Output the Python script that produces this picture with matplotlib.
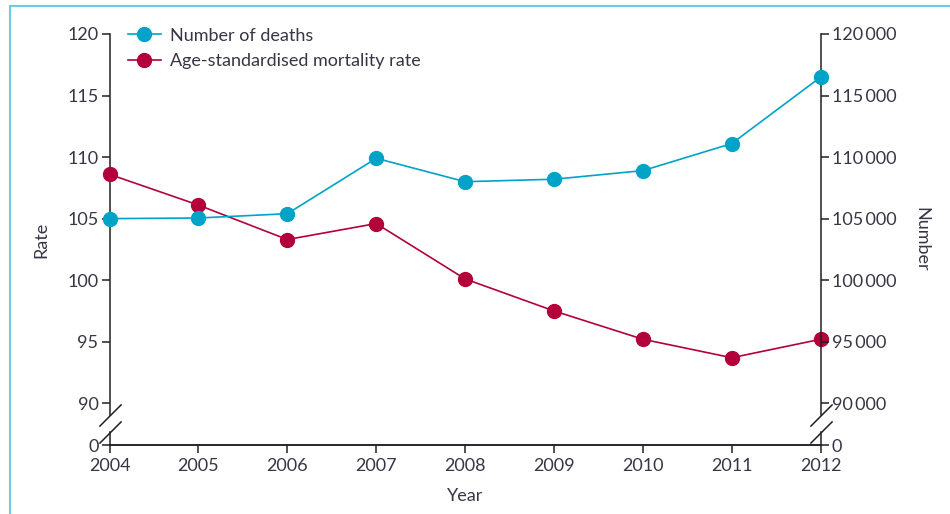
import matplotlib.pyplot as plt
from matplotlib.lines import Line2D
from matplotlib.ticker import FixedLocator

plt.rcParams['font.family'] = ['Lato', 'DejaVu Sans']

years = [2004, 2005, 2006, 2007, 2008, 2009, 2010, 2011, 2012]
deaths = [105000, 105050, 105400, 109900, 108000, 108200, 108900, 111100, 116500]
rate = [108.6, 106.1, 103.3, 104.6, 100.1, 97.5, 95.2, 93.7, 95.2]

rate_ticks = [90, 95, 100, 105, 110, 115, 120]
number_ticks = [90000, 95000, 100000, 105000, 110000, 115000, 120000]

blue = '#00a3c8'
red = '#b4003a'
ink = '#231f20'
txt = '#363646'
fs = 13

y_low = 86.57   # where the broken axis shows "0"
y_top = 120
gap = (87.67, 89.05)

fig = plt.figure(figsize=(9.5, 5.14), dpi=100)
ax = fig.add_axes([0.1153, 0.1333, 0.7486, 0.8006])
ax2 = ax.twinx()

ax.set_xlim(2004, 2012)
ax.set_ylim(y_low, y_top)
ax2.set_ylim(y_low * 1000, y_top * 1000)

l1, = ax2.plot(years, deaths, color=blue, lw=1.2, marker='o', ms=10,
               clip_on=False, zorder=3)
l2, = ax.plot(years, rate, color=red, lw=1.2, marker='o', ms=10,
              clip_on=False, zorder=3)

# ticks
ax.yaxis.set_major_locator(FixedLocator([y_low] + rate_ticks))
ax.set_yticklabels(['0'] + [str(t) for t in rate_ticks])
ax2.yaxis.set_major_locator(FixedLocator([y_low * 1000] + number_ticks))
ax2.set_yticklabels(['0'] + [f'{t // 1000}\u2009000' for t in number_ticks])
ax.set_xticks(years)
ax.set_xticklabels([str(y) for y in years])

for a in (ax, ax2):
    a.tick_params(direction='out', length=6, width=1.1, color=ink,
                  labelsize=fs, labelcolor=txt, pad=2)
    for s in a.spines.values():
        s.set_color(ink)
        s.set_linewidth(1.1)
    a.spines['top'].set_visible(False)

ax.spines['right'].set_visible(False)
ax2.spines['left'].set_visible(False)
ax.spines['left'].set_bounds(gap[1], y_top)
ax2.spines['right'].set_bounds(gap[1] * 1000, y_top * 1000)
ax.tick_params(axis='x', pad=3)

# lower bits of the broken spines and the slashes
tr = ax.get_yaxis_transform()
for xs in (0, 1):
    ax.plot([xs, xs], [y_low, gap[0]], color=ink, lw=1.1, transform=tr,
            clip_on=False)
    ax.plot([xs, xs], list(gap), transform=tr, clip_on=False, ls='none',
            marker=[(-1, -1), (1, 1)], ms=16, mec=ink, mew=1.1, color=ink)

ax.set_ylabel('Rate', fontsize=fs, color=txt, labelpad=13)
ax2.set_ylabel('Number', fontsize=fs, color=txt, rotation=270, labelpad=24)
ax.set_xlabel('Year', fontsize=fs, color=txt, labelpad=10)

ax.legend([l1, l2], ['Number of deaths', 'Age-standardised mortality rate'],
          loc='upper left', bbox_to_anchor=(0.026, 1.015), frameon=False,
          fontsize=fs, labelcolor=txt, handlelength=1.8, handletextpad=0.55,
          labelspacing=0.5, borderaxespad=0, borderpad=0)

# light blue frame at the top and left edges
frame = '#6dcbe3'
fig.add_artist(Line2D([10 / 950, 10 / 950], [0, 1 - 5.5 / 514], color=frame,
                      lw=1.5, transform=fig.transFigure))
fig.add_artist(Line2D([10 / 950, 1], [1 - 5.5 / 514, 1 - 5.5 / 514],
                      color=frame, lw=1.5, transform=fig.transFigure))

fig.savefig('out.png', dpi=100)
